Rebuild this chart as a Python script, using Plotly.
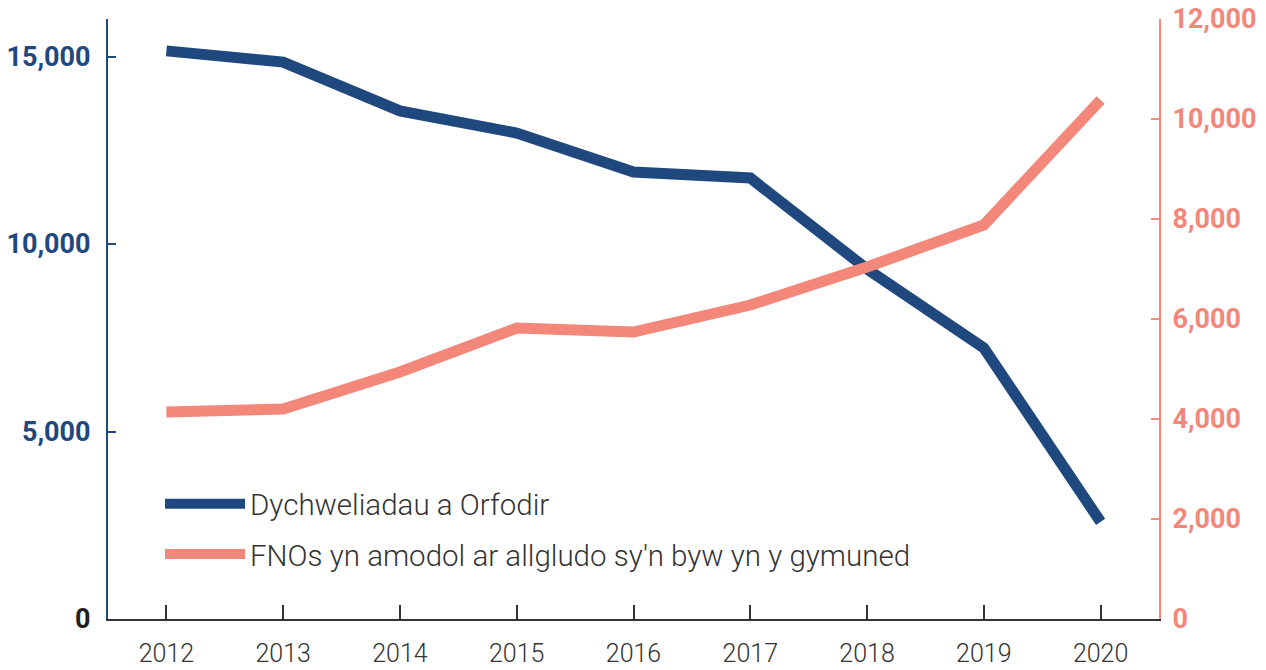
import plotly.graph_objects as go

years = [2012, 2013, 2014, 2015, 2016, 2017, 2018, 2019, 2020]
returns_enforced = [15150, 14850, 13550, 12960, 11920, 11760, 9330, 7230, 2590]
fnos_in_community = [4140, 4200, 4940, 5820, 5740, 6280, 7040, 7880, 10380]

series_names = ["Dychweliadau a Orfodir", "FNOs yn amodol ar allgludo sy'n byw yn y gymuned"]
left_tickvals = [0, 5000, 10000, 15000]
left_ticktext = ['<span style="color:#231f20">0</span>', "5,000", "10,000", "15,000"]
right_tickvals = [0, 2000, 4000, 6000, 8000, 10000, 12000]
right_ticktext = ["0", "2,000", "4,000", "6,000", "8,000", "10,000", "12,000"]

BLUE = "#1f487e"
SALMON = "#f3877a"
DARK = "#333333"
FONT = "Roboto, sans-serif"

fig = go.Figure()
fig.add_trace(go.Scatter(x=years, y=returns_enforced, name=series_names[0], mode="lines",
                         legendgroup="a",
                         line=dict(color=BLUE, width=11), yaxis="y", hoverinfo="skip"))
fig.add_trace(go.Scatter(x=years, y=fnos_in_community, name=series_names[1], mode="lines",
                         legendgroup="b",
                         line=dict(color=SALMON, width=11), yaxis="y2", hoverinfo="skip"))

fig.update_layout(
    width=1266, height=670,
    margin=dict(l=108, r=107, t=19, b=51),
    paper_bgcolor="white", plot_bgcolor="white",
    font=dict(family=FONT, color=DARK),
    showlegend=True,
    legend=dict(x=0.0495, y=0.235, xanchor="left", yanchor="top", bgcolor="rgba(0,0,0,0)",
                font=dict(size=29.5, color=DARK, family=FONT, weight=300), itemwidth=80,
                traceorder="grouped", tracegroupgap=9),
    xaxis=dict(range=[2011.5, 2020.5], tickvals=years, ticks="inside", ticklen=14, tickwidth=2,
               tickcolor=DARK, showline=True, linecolor=DARK, linewidth=2, showgrid=False,
               zeroline=False, automargin=False,
               tickfont=dict(size=25, color=DARK, family=FONT, weight=300), ticklabelstandoff=11),
    yaxis=dict(range=[0, 16000], tickvals=left_tickvals, ticktext=left_ticktext, ticks="inside",
               ticklen=8, tickwidth=2, tickcolor=BLUE, showline=True, linecolor=BLUE, linewidth=2,
               showgrid=False, zeroline=False, ticklabelstandoff=10, automargin=False,
               tickfont=dict(size=27, color=BLUE, family=FONT, weight="bold")),
    yaxis2=dict(range=[0, 12000], tickvals=right_tickvals, ticktext=right_ticktext, overlaying="y",
                side="right", ticks="inside", ticklen=8, tickwidth=2, tickcolor=SALMON, showline=True,
                linecolor=SALMON, linewidth=2, showgrid=False, zeroline=False, ticklabelstandoff=6,
                automargin=False,
                tickfont=dict(size=27, color=SALMON, family=FONT, weight="bold")),
)

# remove the default 8px page margin so the figure fills the window exactly
fig.write_html(
    "out.html",
    config={"displayModeBar": False},
    post_script="document.body.style.margin='0';document.body.style.overflow='hidden';",
)
